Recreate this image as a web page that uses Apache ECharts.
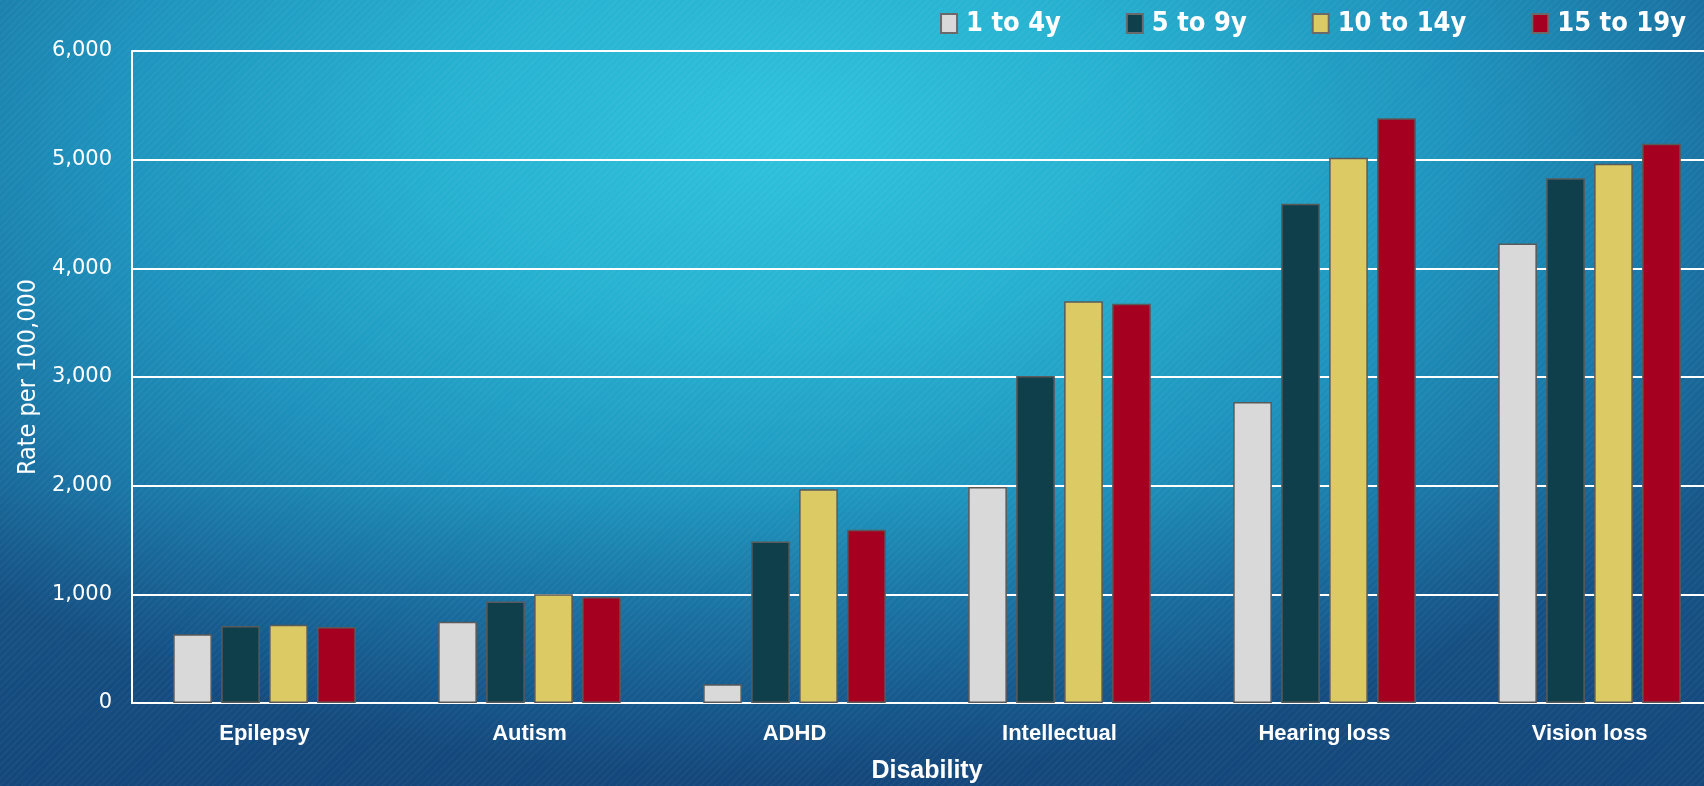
<!DOCTYPE html>
<html>
<head>
<meta charset="utf-8">
<script src="https://cdn.jsdelivr.net/npm/echarts@6/dist/echarts.min.js"></script>
<style>
html,body{margin:0;padding:0;width:1704px;height:786px;overflow:hidden;}
body{
  background:
    repeating-linear-gradient(135deg, rgba(255,255,255,0.03) 0px, rgba(255,255,255,0.03) 2px, rgba(0,0,0,0.0) 2px, rgba(0,0,0,0.0) 5px),
    linear-gradient(180deg, rgba(0,0,0,0) 0%, rgba(0,0,0,0) 62%, rgba(14,40,100,0.35) 100%),
    radial-gradient(ellipse 66% 82% at 46% 17%, #2fc2dc 0%, #27b2d1 30%, #1e93bd 60%, #1a74a4 82%, #175788 100%);
}
#chart{width:1704px;height:786px;}
</style>
</head>
<body>
<div id="chart"></div>
<script>
const categories = ['Epilepsy', 'Autism', 'ADHD', 'Intellectual', 'Hearing loss', 'Vision loss'];
const seriesNames = ['1 to 4y', '5 to 9y', '10 to 14y', '15 to 19y'];
const age1to4 = [632, 748, 172, 1988, 2770, 4229];
const age5to9 = [709, 933, 1487, 3009, 4595, 4828];
const age10to14 = [721, 1000, 1966, 3697, 5018, 4963];
const age15to19 = [699, 975, 1594, 3673, 5381, 5147];
const yTicks = [0, 1000, 2000, 3000, 4000, 5000, 6000];

const colors = ['#d9d9d9', '#0f3f4b', '#dccb64', '#a60021'];
const values = [age1to4, age5to9, age10to14, age15to19];

const chart = echarts.init(document.getElementById('chart'), null, {renderer: 'canvas'});
chart.setOption({
  backgroundColor: 'transparent',
  animation: false,
  grid: {left: 132, right: -18, top: 51, bottom: 83, containLabel: false, outerBoundsMode: 'none'},
  legend: {
    data: seriesNames,
    right: 13, top: 5,
    itemWidth: 16, itemHeight: 19, itemGap: 65,
    icon: 'rect',
    itemStyle: {borderColor: '#6a6a6a', borderWidth: 2},
    textStyle: {color: '#ffffff', fontFamily: '"DejaVu Sans Condensed", "DejaVu Sans", sans-serif', fontWeight: 'bold', fontSize: 27, padding: [0, 0, 0, 4]}
  },
  xAxis: {
    type: 'category',
    data: categories,
    name: 'Disability',
    nameLocation: 'middle',
    nameGap: 56,
    nameTextStyle: {color: '#ffffff', fontFamily: '"Liberation Sans", Arial, sans-serif', fontWeight: 'bold', fontSize: 25},
    axisLine: {show: true, lineStyle: {color: '#ffffff', width: 2}},
    axisTick: {show: false},
    axisLabel: {color: '#ffffff', fontFamily: '"Liberation Sans", Arial, sans-serif', fontWeight: 'bold', fontSize: 22, margin: 20}
  },
  yAxis: {
    type: 'value',
    min: 0, max: 6000, interval: 1000,
    name: 'Rate per 100,000',
    nameLocation: 'middle',
    nameGap: 82,
    nameTextStyle: {color: '#ffffff', fontFamily: '"DejaVu Sans Condensed", "DejaVu Sans", sans-serif', fontSize: 25},
    axisLine: {show: true, lineStyle: {color: '#ffffff', width: 2}},
    axisTick: {show: false},
    splitLine: {show: true, lineStyle: {color: '#ffffff', width: 2}},
    axisLabel: {
      color: '#ffffff', fontFamily: '"DejaVu Sans", Verdana, sans-serif', fontSize: 21, margin: 20,
      formatter: v => yTicks.includes(v) ? v.toLocaleString('en-US') : ''
    }
  },
  series: seriesNames.map((n, i) => ({
    name: n,
    type: 'bar',
    data: values[i],
    barWidth: '14.6%',
    barGap: '24%',
    itemStyle: {color: colors[i], borderColor: '#5a5a5a', borderWidth: 1.5}
  }))
});
</script>
</body>
</html>
